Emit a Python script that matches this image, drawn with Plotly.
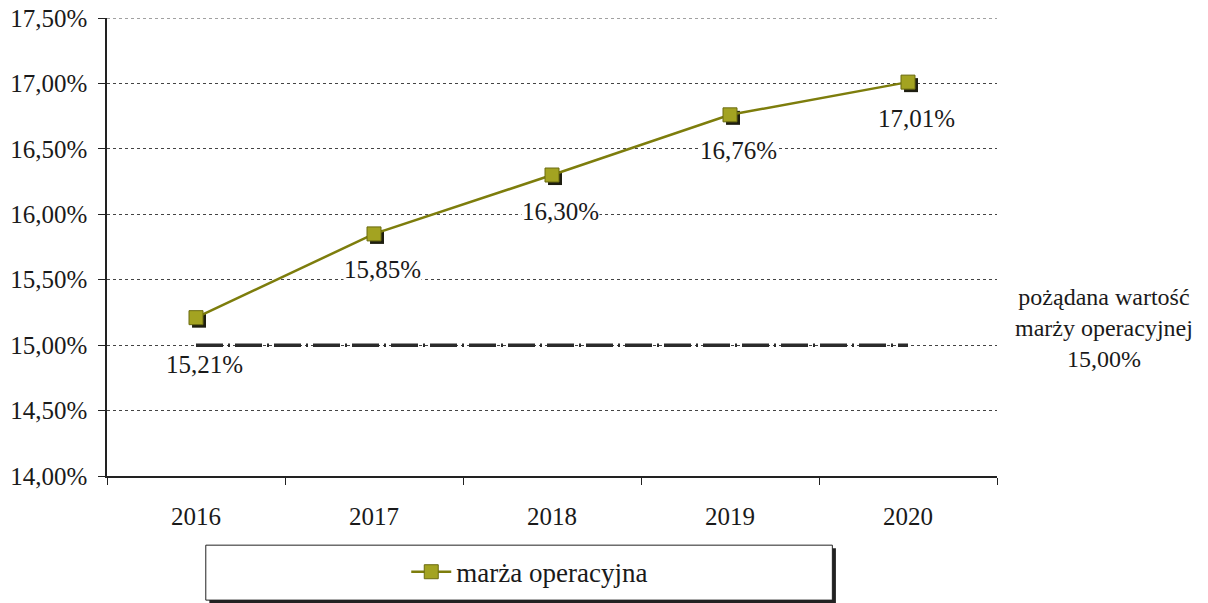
import plotly.graph_objects as go

# chart data
years = ["2016", "2017", "2018", "2019", "2020"]
marza = [15.21, 15.85, 16.30, 16.76, 17.01]
marza_labels = ["15,21%", "15,85%", "16,30%", "16,76%", "17,01%"]
target = [15.00, 15.00, 15.00, 15.00, 15.00]
target_text = "pożądana wartość<br>marży operacyjnej<br>15,00%"
series_name = "marża operacyjna"
y_range = [14.0, 17.5]

FONT = "Liberation Serif"
OLIVE = "#7d7d0c"
OLIVE_FILL = "#a3a321"

idx = list(range(len(years)))

fig = go.Figure()

# target level (dash-dot)
fig.add_trace(go.Scatter(
    x=idx, y=target, mode="lines", showlegend=False, hoverinfo="skip",
    line=dict(color="#2b2b2b", width=3.5, dash="27px,5px,2px,5px"),
))

# marker shadows, nudged a few px right/down
fig.add_trace(go.Scatter(
    x=[i + 0.017 for i in idx], y=[v - 0.023 for v in marza],
    mode="markers", showlegend=False, hoverinfo="skip",
    marker=dict(symbol="square", size=14, color="#1e1e10"),
))

fig.add_trace(go.Scatter(
    x=idx, y=marza, mode="lines+markers", name=series_name,
    line=dict(color=OLIVE, width=2.5),
    marker=dict(symbol="square", size=14, color=OLIVE_FILL,
                line=dict(color="#6b6b10", width=1)),
))

# value labels under each point; the one sitting near the target line
# gets no background so it doesn't blank the dashes
for x, y, t, tg in zip(idx, marza, marza_labels, target):
    near = abs(y - tg) < 0.3
    fig.add_annotation(x=x, y=y, text=t, showarrow=False,
                       yshift=-47 if near else -36, xshift=8,
                       bgcolor="rgba(0,0,0,0)" if near else "white", borderpad=0,
                       font=dict(family=FONT, size=25, color="#1a1a1a"))

# target description on the right
fig.add_annotation(xref="paper", yref="paper", x=1.12, y=0.323, text=target_text,
                   showarrow=False, align="center", xanchor="center",
                   yanchor="middle",
                   font=dict(family=FONT, size=24, color="#1a1a1a"))

# top gridline (plotly skips it at the range edge)
fig.add_shape(type="line", xref="paper", yref="y", x0=0, x1=1,
              y0=y_range[1], y1=y_range[1],
              line=dict(color="#444", width=1, dash="dot"))

# legend box with shadow
fig.add_shape(type="rect", xref="paper", yref="paper", x0=0.115, x1=0.819,
              y0=-0.278, y1=-0.158, line=dict(width=0), fillcolor="#222")
fig.add_shape(type="rect", xref="paper", yref="paper", x0=0.111, x1=0.815,
              y0=-0.271, y1=-0.151, line=dict(color="#222", width=1),
              fillcolor="white")

fig.update_layout(
    width=1208, height=603,
    margin=dict(l=107, r=211, t=18, b=127, autoexpand=False),
    paper_bgcolor="white", plot_bgcolor="white",
    font=dict(family=FONT, size=25, color="#1a1a1a"),
    separators=", ",
    showlegend=True,
    legend=dict(x=0.475, y=-0.21, xanchor="center", yanchor="middle",
                bgcolor="rgba(0,0,0,0)", font=dict(family=FONT, size=27),
                itemwidth=40),
    xaxis=dict(range=[-0.5, 4.5], tickvals=idx, ticktext=years, ticks="",
               showline=True, linecolor="#222", linewidth=1.5,
               showgrid=False, zeroline=False, automargin=False,
               ticklabelstandoff=17,
               tickfont=dict(family=FONT, size=25),
               minor=dict(tick0=-0.5, dtick=1, ticks="outside", ticklen=7,
                          tickcolor="#222", showgrid=False)),
    yaxis=dict(range=y_range, dtick=0.5, tick0=14, tickformat=".2f",
               ticksuffix="%", showline=True, linecolor="#222", linewidth=1.5,
               ticks="outside", ticklen=7, tickcolor="#222",
               ticklabelstandoff=6, tickfont=dict(family=FONT, size=25),
               showgrid=True, gridcolor="#444", gridwidth=1, griddash="dot",
               zeroline=False, automargin=False),
)

# page body has a default 8px margin; drop it so the figure fills the window
fig.write_html("out.html", config={"displayModeBar": False},
               post_script="document.body.style.margin='0';")
